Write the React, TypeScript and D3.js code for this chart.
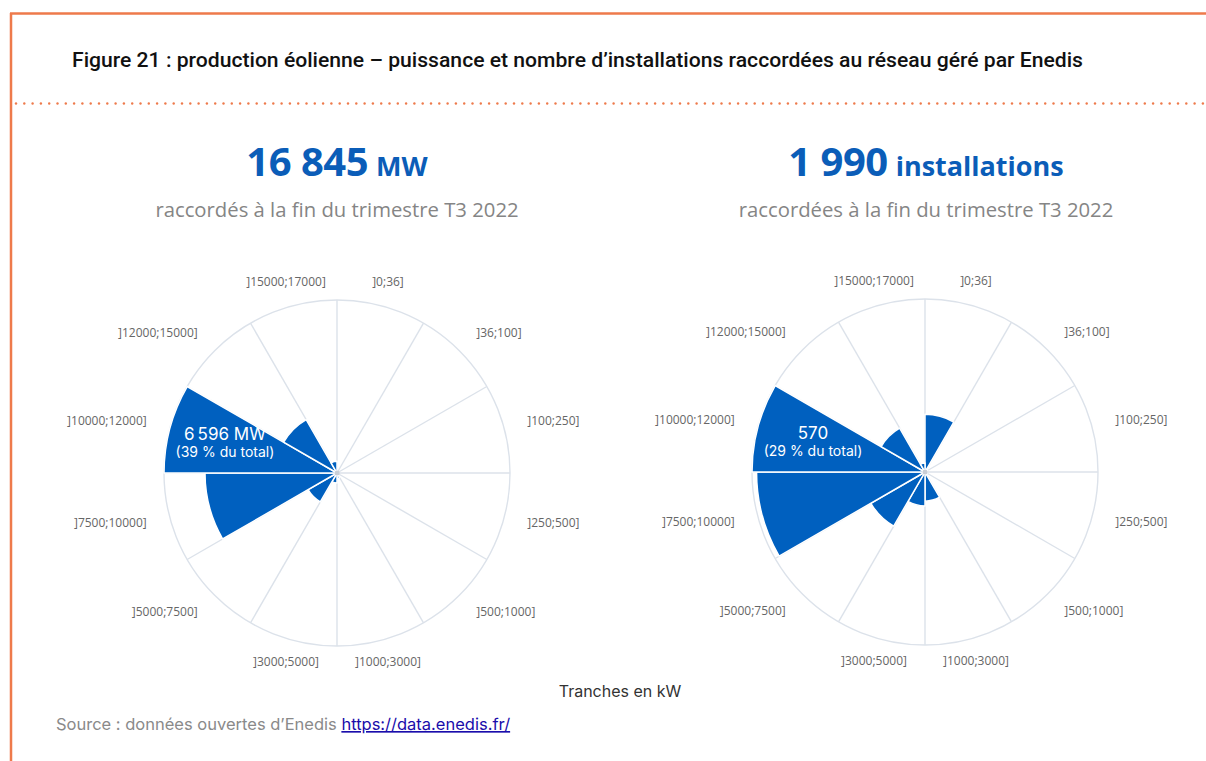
import React from 'react';
import * as d3 from 'd3';

const width = 1206;
const height = 761;

// tranches de puissance (kW), dans l'ordre horaire depuis le haut
const categories = [
  ']0;36]', ']36;100]', ']100;250]', ']250;500]', ']500;1000]', ']1000;3000]',
  ']3000;5000]', ']5000;7500]', ']7500;10000]', ']10000;12000]', ']12000;15000]', ']15000;17000]',
];

// puissance raccordée (MW) par tranche
const powerMW = [3, 2, 5, 20, 40, 200, 380, 1273, 5033, 6596, 2349, 450];
// nombre d'installations par tranche
const installCount = [190, 10, 5, 5, 8, 96, 112, 206, 555, 570, 167, 30];

const totalMW = '16 845';
const totalInstall = '1 990';

const orange = '#ee7a4b';
const blue = '#0060bf';
const titleBlue = '#0b5db8';
const gridColor = '#dce2ea';

const R = 173;

const Rose = ({ cx, cy, values, label1, label2 }) => {
  const angle = d3.scaleBand().domain(categories).range([0, 2 * Math.PI]).padding(0);
  const radius = d3.scaleLinear().domain([0, d3.max(values)]).range([0, R]);
  const arcGen = d3.arc().innerRadius(0);
  const maxIdx = d3.maxIndex(values);
  const bw = angle.bandwidth();

  const midMax = angle(categories[maxIdx]) + bw / 2;
  const lx = 116 * Math.sin(midMax);
  const ly = -116 * Math.cos(midMax) + 6;

  return (
    <g transform={`translate(${cx},${cy})`}>
      <circle r={R} fill="#fff" stroke={gridColor} strokeWidth={1.4} />
      {categories.map(c => {
        const a = angle(c);
        return (
          <line key={'g' + c} x1={0} y1={0} x2={R * Math.sin(a)} y2={-R * Math.cos(a)}
            stroke={gridColor} strokeWidth={1.4} />
        );
      })}
      {values.map((v, i) => (
        <path key={'b' + i} fill={blue} stroke="#fff" strokeWidth={1.5} strokeLinejoin="round"
          d={arcGen({
            startAngle: angle(categories[i]),
            endAngle: angle(categories[i]) + bw,
            outerRadius: radius(v),
          })} />
      ))}
      <circle r={2.5} fill="#c9ced6" />
      {categories.map(c => {
        const a = angle(c) + bw / 2;
        const s = Math.sin(a);
        const anchor = s > 0.5 ? 'start' : s < -0.5 ? 'end' : 'middle';
        return (
          <text key={'l' + c} x={(R + 24) * s} y={-(R + 24) * Math.cos(a)}
            textAnchor={anchor} dominantBaseline="middle"
            fontFamily="'Open Sans', sans-serif" fontSize={12} fill="#666">
            {c}
          </text>
        );
      })}
      <text x={lx} y={ly - 9} textAnchor="middle" fill="#fff"
        fontFamily="Inter, sans-serif" fontSize={17}>{label1}</text>
      <text x={lx} y={ly + 8} textAnchor="middle" fill="#fff"
        fontFamily="Inter, sans-serif" fontSize={14}>{label2}</text>
    </g>
  );
};

const Heading = ({ x, big, small, sub }) => (
  <g>
    <text x={x} y={176} textAnchor="middle" fontFamily="'Open Sans', sans-serif"
      fontWeight={700} fill={titleBlue}>
      <tspan fontSize={40} letterSpacing={-0.5}>{big}</tspan>
      <tspan fontSize={27} dx={8}>{small}</tspan>
    </text>
    <text x={x} y={217} textAnchor="middle" fontFamily="'Open Sans', sans-serif"
      fontSize={20.3} fill="#858585">{sub}</text>
  </g>
);

const App = () => {
  const dots = d3.range(16, width, 8.3);
  const mwPct = Math.round((d3.max(powerMW) / 16845) * 100);
  const instPct = Math.round((d3.max(installCount) / 1990) * 100);

  return (
    <svg width={width} height={height} style={{ position: 'absolute', left: 0, top: 0, background: '#fff' }}>
      <line x1={10} y1={13.5} x2={width} y2={13.5} stroke={orange} strokeWidth={2.5} />
      <line x1={11} y1={13} x2={11} y2={height} stroke={orange} strokeWidth={2.5} />
      <text x={72} y={67} fontFamily="Roboto, sans-serif" fontWeight={500} fontSize={20}
        fill="#111" textLength={1011} lengthAdjust="spacingAndGlyphs">
        Figure 21 : production éolienne – puissance et nombre d’installations raccordées au réseau géré par Enedis
      </text>
      {dots.map((x, i) => (
        <circle key={i} cx={x} cy={103.5} r={1.2} fill={orange} />
      ))}

      <Heading x={337} big={totalMW} small="MW" sub="raccordés à la fin du trimestre T3 2022" />
      <Heading x={926} big={totalInstall} small="installations" sub="raccordées à la fin du trimestre T3 2022" />

      <Rose cx={337} cy={473} values={powerMW}
        label1={'6\u202f596 MW'} label2={`(${mwPct} % du total)`} />
      <Rose cx={925} cy={472} values={installCount}
        label1="570" label2={`(${instPct} % du total)`} />

      <text x={620} y={697} textAnchor="middle" fontFamily="Inter, sans-serif" fontSize={16}
        fill="#333">Tranches en kW</text>

      <text x={56} y={730} fontFamily="Inter, sans-serif" fontSize={16.5} fill="#8a8a8a">
        Source : données ouvertes d’Enedis{' '}
        <tspan fill="#1a0dab" textDecoration="underline">https://data.enedis.fr/</tspan>
      </text>
    </svg>
  );
};

export default App;
